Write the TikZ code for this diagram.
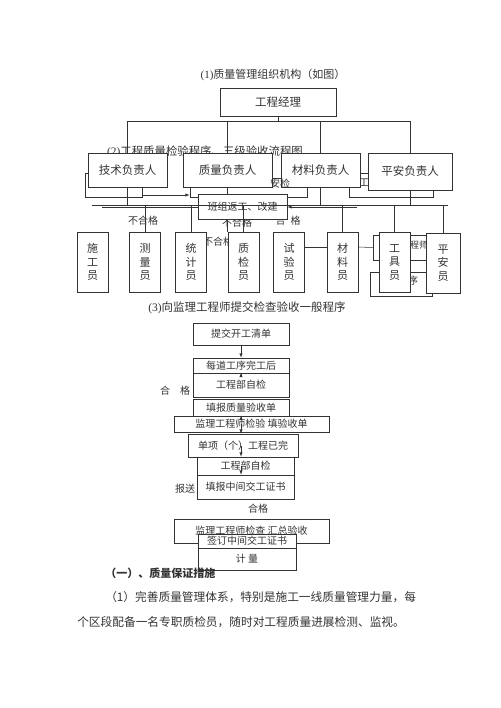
\documentclass[tikz,border=0pt]{standalone}
\usepackage{fontspec}
\setmainfont{Liberation Serif}
\newfontfamily\cjk{Noto Sans CJK SC}
\usetikzlibrary{arrows}
\tikzstyle{post}=[rectangle, draw, fill=white, inner sep=1pt, font=\cjk\fontsize{11.5}{13}\selectfont]
\tikzstyle{staff}=[post, minimum width=31pt, minimum height=60pt, text width=12pt, align=center, font=\cjk\fontsize{11}{13.5}\selectfont]
\tikzstyle{flow}=[post, minimum width=96pt, font=\cjk\fontsize{10}{12}\selectfont]
\tikzstyle{ghost}=[rectangle, draw, inner sep=0pt]
\tikzstyle{note}=[inner sep=0pt, font=\cjk\fontsize{10}{12}\selectfont]
\newcommand{\post}{\node[post]}
\newcommand{\staff}{\node[staff]}
\newcommand{\flow}{\node[flow]}

\begin{document}
\begin{tikzpicture}[x=1pt, y=-1pt, line width=0.55pt, >=latex, color=black!80
  ,branch/.style={to path={(\tikztostart.south) -- ++(0,5) -| (\tikztotarget.north)}}
  ,downbus/.style={to path={(\tikztostart.south) -- (\tikztostart.south |- \tikztotarget)}}
  ,upbus/.style={to path={(\tikztostart.north) -- (\tikztostart.north |- \tikztotarget)}}
]
\useasboundingbox (0,0) rectangle (500,708);
% (1) organisation
\node[note, font=\cjk\fontsize{11}{13}\selectfont] (t1) at (273,75) {{\rmfamily(1)}质量管理组织机构（如图）};
% what is left of (2) behind the chart
\node[note, font=\cjk\fontsize{11.4}{13}\selectfont] (t2) at (205,152) {{\rmfamily(2)}工程质量检验程序、三级验收流程图};
\node[ghost, minimum width=57pt, minimum height=24pt] (ga) at (113.5,185) {};
\node[ghost, minimum width=117pt, minimum height=19pt] (gb) at (248.5,187.5) {};
\node[ghost, minimum width=84pt, minimum height=24pt] (gc) at (391,185) {};
\node[note, font=\cjk\fontsize{10.5}{12}\selectfont] (gct) at (364,183) {工};
\node[ghost, minimum width=53pt, minimum height=25pt] (bk1) at (399.5,247.5) {};
\node[note, font=\cjk\fontsize{9}{11}\selectfont] (bk1t) at (419,245) {程师};
\node[ghost, minimum width=62pt, minimum height=24pt] (bk2) at (401,284) {};
\node[note] (bk2t) at (413,281) {序};
\node[note] (n1) at (143,221) {不合格};
\node[note] (n2) at (237,223) {不合格};
\node[note] (n3) at (288,221) {合\hspace{5pt}格};
\node[note] (n4) at (218,242) {不合格};
\draw[->] ([yshift=-10pt]ga.east) -- ([yshift=-7.5pt]gb.west);

\post[minimum width=116pt, minimum height=28pt] (gm) at (278,102) {工程经理};
\post[minimum width=79pt, minimum height=34pt] (tech) at (127.5,170) {技术负责人};
\post[minimum width=89pt, minimum height=34pt] (qual) at (227.5,170) {质量负责人};
\post[minimum width=79pt, minimum height=34pt] (matl) at (320.5,170) {材料负责人};
\post[minimum width=84pt, minimum height=37pt] (safe) at (410,171.5) {平安负责人};
\node[note] (gbt) at (280,184) {安检};
\coordinate (busL) at (92,205);
\coordinate (busR) at (448,205);
\coordinate (l2a) at (102,207);
\coordinate (l2b) at (357,207);

\staff (sg) at (92.5,262) {施\\工\\员};
\staff (cl) at (145,262) {测\\量\\员};
\staff (tj) at (191,262) {统\\计\\员};
\staff (qc) at (243.5,262) {质\\检\\员};
\staff (sy) at (289,262) {试\\验\\员};
\staff (cy) at (342.5,262) {材\\料\\员};
\staff (gj) at (394.5,262) {工\\具\\员};
\staff[minimum width=34pt] (pa) at (443,263) {平\\安\\员};

\path
(gm) edge[branch] (tech) edge[branch] (qual) edge[branch] (matl) edge[branch] (safe)
(tech) edge[downbus] (busL)
(qual) edge[downbus] (qc.north)
(matl) edge[downbus] (busL)
(safe) edge[downbus] (busL)
;
\post[minimum width=89pt, minimum height=25pt, font=\cjk\fontsize{10}{12}\selectfont] (bz) at (242.5,207) {班组返工、改建};
\draw (busL) -- (busR);
\draw (l2a) -- (bz.west);
\draw[->] (l2b) -- (bz.east);
\path
(cl) edge[upbus] (busL)
(tj) edge[upbus] (busL)
(qc) edge[upbus] (busL)
(cy) edge[upbus] (busL)
(gj) edge[upbus] (busL)
(pa) edge[upbus] (busL)
;
\draw ([yshift=15pt]sy.east) -- ([yshift=15pt]cy.west);
\draw ([yshift=15pt]cy.east) -- (bk1.west);

% (3) acceptance
\node[note, font=\cjk\fontsize{11.5}{13}\selectfont] (t3) at (247,308) {{\rmfamily(3)}向监理工程师提交检查验收一般程序};
\flow[minimum height=22pt] (f1) at (241,334) {提交开工清单};
\flow[minimum height=15pt] (f2) at (241,365.5) {每道工序完工后};
\flow[minimum height=24pt] (f3) at (241,385) {工程部自检};
\flow[minimum height=17pt] (f4) at (241,407.5) {填报质量验收单};
\flow[minimum width=155pt, minimum height=16pt] (f5) at (251.5,424) {监理工程师检验\ 填验收单};
\flow[minimum width=110pt, minimum height=23pt] (f6) at (243,445.5) {单项（个）工程已完};
\flow[minimum width=97pt, minimum height=18pt] (f7) at (245.5,466) {工程部自检};
\flow[minimum width=97pt, minimum height=24pt] (f8) at (245.5,487) {填报中间交工证书};
\flow[minimum width=155pt, minimum height=24pt] (f9) at (251.5,531) {监理工程师检查\ 汇总验收};
\flow[minimum width=98pt, minimum height=14pt] (f10) at (247,541) {签订中间交工证书};
\flow[minimum width=98pt, minimum height=22pt] (f11) at (247,559) {计\ 量};
\node[note] (h1) at (175,391) {合\hspace{10pt}格};
\node[note] (h2) at (185,489) {报送};
\node[note] (h3) at (258,509) {合格};
\draw[->] (f1) -- (f2.north);
\draw[->] (f2) -- (f3.north);
\draw[->] (f4) -- (f5.north -| f4);
\draw[->] (f5.center -| f4) -- (f6.north -| f4);
\draw[->] (f6.center -| f4) -- (f7.north -| f4);
\draw[->] (f7.center -| f4) -- (f8.north -| f4);

% text below
\node[note, anchor=west, font=\cjk\bfseries\fontsize{11}{13}\selectfont] (s1) at (105,573) {（一）、质量保证措施};
\node[note, anchor=west, font=\cjk\fontsize{11.7}{14}\selectfont] (p1) at (105,597) {（1）完善质量管理体系，特别是施工一线质量管理力量，每};
\node[note, anchor=west, font=\cjk\fontsize{11.7}{14}\selectfont] (p2) at (77,622) {个区段配备一名专职质检员，随时对工程质量进展检测、监视。};
\end{tikzpicture}
\end{document}
